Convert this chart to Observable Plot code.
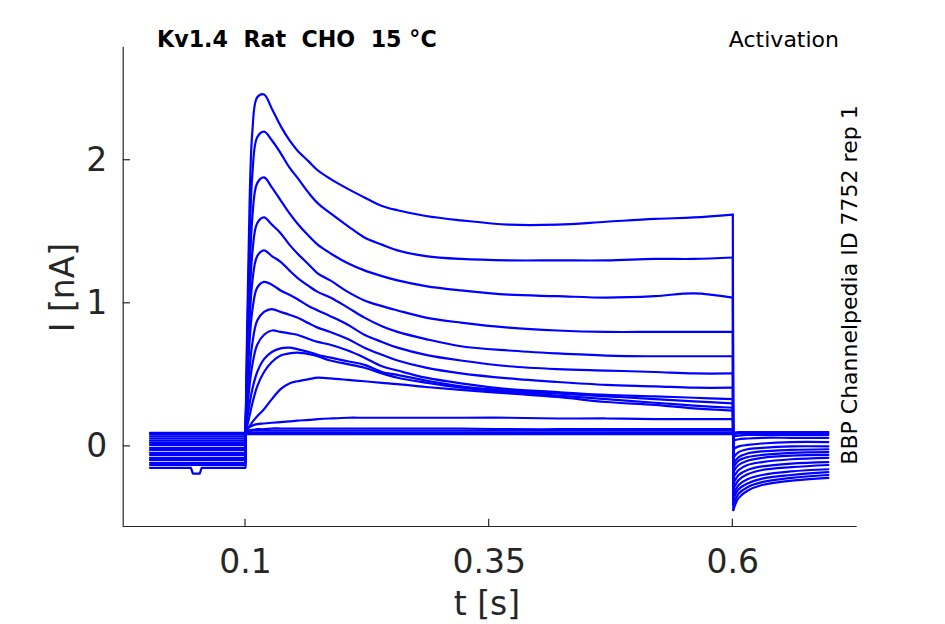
<!DOCTYPE html>
<html><head><meta charset="utf-8">
<script src="https://cdn.jsdelivr.net/npm/d3@7"></script>
<script src="https://cdn.jsdelivr.net/npm/@observablehq/plot@0.6"></script>
<style>body{margin:0;background:#fff} svg{display:block}</style>
</head><body><div id="chart"></div>
<script>
// ---- data ----
const xTicks = [0.1, 0.35, 0.6];
const yTicks = [0, 1, 2];
const xDomain = [-0.0255, 0.7276];
const yDomain = [-0.56, 2.79];

// holding level before the step (one per sweep, sweep 1 = largest current)
const preT = [0.002, 0.1];
const preI = [-0.15, -0.13, -0.115, -0.095, -0.08, -0.06, -0.045, -0.025, -0.01, 0.01, 0.025, 0.04, 0.055, 0.07, 0.085, 0.095];
// small artefact on the lowest pre-pulse trace
const dipT = [0.044, 0.046, 0.053, 0.055];
const dipI = [-0.15, -0.19, -0.19, -0.15];

// during the step
const pulseT = [0.1, 0.103, 0.107, 0.112, 0.119, 0.127, 0.136, 0.145, 0.153, 0.165, 0.174, 0.187, 0.205, 0.222, 0.24, 0.256, 0.285, 0.321, 0.37, 0.42, 0.47, 0.52, 0.56, 0.6];
const pulseI = [
  [0.10, 1.30, 2.20, 2.44, 2.46, 2.36, 2.24, 2.14, 2.07, 1.99, 1.93, 1.87, 1.80, 1.74, 1.68, 1.65, 1.61, 1.58, 1.55, 1.55, 1.57, 1.59, 1.60, 1.62],
  [0.10, 1.10, 1.90, 2.16, 2.20, 2.14, 2.05, 1.95, 1.88, 1.77, 1.70, 1.63, 1.54, 1.46, 1.41, 1.37, 1.33, 1.31, 1.30, 1.30, 1.30, 1.31, 1.31, 1.32],
  [0.10, 0.90, 1.60, 1.84, 1.88, 1.81, 1.72, 1.63, 1.56, 1.47, 1.41, 1.35, 1.28, 1.23, 1.19, 1.16, 1.12, 1.09, 1.06, 1.05, 1.04, 1.05, 1.07, 1.04],
  [0.10, 0.80, 1.35, 1.56, 1.60, 1.55, 1.49, 1.41, 1.35, 1.27, 1.21, 1.16, 1.08, 1.02, 0.98, 0.95, 0.90, 0.865, 0.83, 0.81, 0.80, 0.80, 0.80, 0.80],
  [0.10, 0.70, 1.15, 1.33, 1.37, 1.33, 1.29, 1.23, 1.18, 1.12, 1.08, 1.04, 0.97, 0.90, 0.84, 0.80, 0.75, 0.70, 0.67, 0.65, 0.635, 0.63, 0.63, 0.63],
  [0.10, 0.60, 0.95, 1.11, 1.15, 1.13, 1.09, 1.06, 1.03, 0.98, 0.95, 0.91, 0.85, 0.78, 0.73, 0.69, 0.64, 0.60, 0.56, 0.54, 0.53, 0.52, 0.51, 0.51],
  [0.10, 0.45, 0.72, 0.88, 0.94, 0.96, 0.94, 0.92, 0.90, 0.86, 0.83, 0.80, 0.75, 0.69, 0.64, 0.60, 0.55, 0.51, 0.475, 0.45, 0.43, 0.42, 0.41, 0.41],
  [0.10, 0.35, 0.57, 0.71, 0.78, 0.81, 0.80, 0.79, 0.78, 0.75, 0.73, 0.71, 0.67, 0.62, 0.56, 0.53, 0.48, 0.44, 0.40, 0.38, 0.36, 0.35, 0.34, 0.33],
  [0.10, 0.25, 0.40, 0.52, 0.61, 0.66, 0.685, 0.69, 0.68, 0.66, 0.64, 0.62, 0.595, 0.57, 0.52, 0.50, 0.46, 0.42, 0.39, 0.37, 0.35, 0.33, 0.315, 0.30],
  [0.10, 0.18, 0.30, 0.42, 0.52, 0.59, 0.635, 0.65, 0.655, 0.645, 0.63, 0.60, 0.575, 0.55, 0.51, 0.48, 0.445, 0.41, 0.38, 0.355, 0.33, 0.305, 0.285, 0.27],
  [0.10, 0.13, 0.17, 0.21, 0.26, 0.33, 0.40, 0.44, 0.455, 0.47, 0.48, 0.475, 0.465, 0.455, 0.444, 0.435, 0.415, 0.395, 0.37, 0.345, 0.31, 0.29, 0.265, 0.25],
  [0.10, 0.13, 0.145, 0.155, 0.16, 0.165, 0.17, 0.175, 0.18, 0.185, 0.19, 0.195, 0.20, 0.20, 0.20, 0.20, 0.20, 0.20, 0.20, 0.195, 0.195, 0.19, 0.19, 0.19],
  [0.10, 0.11, 0.115, 0.12, 0.12, 0.125, 0.125, 0.125, 0.125, 0.125, 0.125, 0.125, 0.125, 0.125, 0.125, 0.125, 0.125, 0.125, 0.12, 0.12, 0.12, 0.12, 0.12, 0.12],
  [0.10, 0.105, 0.11, 0.11, 0.11, 0.11, 0.11, 0.11, 0.11, 0.11, 0.11, 0.11, 0.11, 0.11, 0.11, 0.11, 0.11, 0.11, 0.11, 0.11, 0.11, 0.11, 0.11, 0.11],
  [0.09, 0.095, 0.095, 0.095, 0.095, 0.095, 0.095, 0.095, 0.095, 0.095, 0.095, 0.095, 0.095, 0.095, 0.095, 0.095, 0.095, 0.095, 0.095, 0.095, 0.095, 0.095, 0.095, 0.095],
  [0.085, 0.085, 0.085, 0.085, 0.085, 0.085, 0.085, 0.085, 0.085, 0.085, 0.085, 0.085, 0.085, 0.085, 0.085, 0.085, 0.085, 0.085, 0.085, 0.085, 0.085, 0.085, 0.085, 0.085]
];

// tail after the step
const tailT = [0.6005, 0.606, 0.615, 0.63, 0.66, 0.698];
const tailI = [
  [-0.445, -0.36, -0.31, -0.27, -0.24, -0.22],
  [-0.41, -0.33, -0.285, -0.25, -0.22, -0.20],
  [-0.37, -0.30, -0.26, -0.225, -0.20, -0.18],
  [-0.34, -0.27, -0.23, -0.20, -0.175, -0.16],
  [-0.30, -0.235, -0.195, -0.165, -0.145, -0.13],
  [-0.26, -0.20, -0.165, -0.14, -0.12, -0.11],
  [-0.22, -0.165, -0.13, -0.11, -0.09, -0.08],
  [-0.18, -0.13, -0.10, -0.08, -0.065, -0.06],
  [-0.15, -0.10, -0.075, -0.06, -0.045, -0.04],
  [-0.12, -0.075, -0.05, -0.035, -0.025, -0.02],
  [-0.08, -0.04, -0.02, -0.01, 0.0, 0.0],
  [-0.02, 0.0, 0.01, 0.02, 0.03, 0.03],
  [0.04, 0.05, 0.055, 0.06, 0.06, 0.06],
  [0.07, 0.075, 0.08, 0.08, 0.08, 0.08],
  [0.085, 0.09, 0.09, 0.09, 0.09, 0.09],
  [0.095, 0.10, 0.10, 0.10, 0.10, 0.10]
];

// ---- build the tables: straight pieces (holding + steps) and smooth pieces ----
const straight = [], smooth = [];
preI.forEach((pre, s) => {
  straight.push({z: "a" + s, t: preT[0], I: pre});
  if (s === 0) dipT.forEach((t, k) => straight.push({z: "a" + s, t, I: dipI[k]}));
  straight.push({z: "a" + s, t: preT[1], I: pre});
  straight.push({z: "a" + s, t: pulseT[0], I: pulseI[s][0]});
  pulseT.forEach((t, k) => smooth.push({z: "p" + s, t, I: pulseI[s][k]}));
  straight.push({z: "d" + s, t: pulseT[pulseT.length - 1], I: pulseI[s][pulseT.length - 1]});
  straight.push({z: "d" + s, t: tailT[0], I: tailI[s][0]});
  tailT.forEach((t, k) => smooth.push({z: "t" + s, t, I: tailI[s][k]}));
});

const axisColor = "#262626";
const W = 945, H = 624;
const mL = 122.7, mR = 88.3, mT = 46.7, mB = 98;
const traceColor = "#0000ff", traceWidth = 2.2;

const plot = Plot.plot({
  width: W, height: H,
  marginLeft: mL, marginRight: mR, marginTop: mT, marginBottom: mB,
  style: {fontFamily: "DejaVu Sans", fontSize: "33px", color: axisColor, background: "#fff"},
  x: {domain: xDomain, label: null},
  y: {domain: yDomain, label: null},
  marks: [
    Plot.line(straight, {x: "t", y: "I", z: "z", stroke: traceColor, strokeWidth: traceWidth, curve: "linear", strokeLinejoin: "round"}),
    Plot.line(smooth, {x: "t", y: "I", z: "z", stroke: traceColor, strokeWidth: traceWidth, curve: "catmull-rom", strokeLinejoin: "round"}),
    Plot.ruleX([xDomain[0]], {stroke: axisColor, strokeWidth: 1.2}),
    Plot.ruleY([yDomain[0]], {stroke: axisColor, strokeWidth: 1.2}),
    Plot.axisX(xTicks, {tickSize: 0, tickPadding: 23, fontSize: 33, fill: axisColor, label: null, tickFormat: d => String(d)}),
    Plot.axisY(yTicks, {tickSize: 0, tickPadding: 16, fontSize: 33, fill: axisColor, label: null, tickFormat: d => String(d)})
  ]
});

document.getElementById("chart").appendChild(plot);

const svg = d3.select(plot);
const sx = plot.scale("x"), sy = plot.scale("y");
const x0 = sx.apply(xDomain[0]), y0 = sy.apply(yDomain[0]);
const tickLen = 7.3;
xTicks.forEach(t => {
  const px = sx.apply(t);
  svg.append("line").attr("x1", px).attr("x2", px).attr("y1", y0).attr("y2", y0 - tickLen)
    .attr("stroke", axisColor).attr("stroke-width", 1.2);
});
yTicks.forEach(v => {
  const py = sy.apply(v);
  svg.append("line").attr("x1", x0).attr("x2", x0 + tickLen).attr("y1", py).attr("y2", py)
    .attr("stroke", axisColor).attr("stroke-width", 1.2);
});

// texts
svg.append("text").attr("x", 157).attr("y", 47.3).attr("text-anchor", "start")
  .attr("font-family", "DejaVu Sans").attr("font-weight", "bold").attr("font-size", 22.2)
  .attr("fill", "#000").style("white-space", "pre").attr("xml:space", "preserve")
  .text("Kv1.4  Rat  CHO  15 °C");
svg.append("text").attr("x", 839).attr("y", 47)
  .attr("font-family", "DejaVu Sans").attr("font-size", 22).attr("text-anchor", "end")
  .attr("fill", "#000").text("Activation");
svg.append("text").attr("transform", "translate(857,285) rotate(-90)")
  .attr("font-family", "DejaVu Sans").attr("font-size", 22).attr("text-anchor", "middle")
  .attr("fill", "#000").text("BBP Channelpedia ID 7752 rep 1");
svg.append("text").attr("transform", "translate(73.5,287.5) rotate(-90)")
  .attr("font-family", "DejaVu Sans").attr("font-size", 33).attr("text-anchor", "middle")
  .attr("fill", axisColor).text("I [nA]");
svg.append("text").attr("x", 487).attr("y", 615)
  .attr("font-family", "DejaVu Sans").attr("font-size", 33).attr("text-anchor", "middle")
  .attr("fill", axisColor).text("t [s]");
</script>
</body></html>
